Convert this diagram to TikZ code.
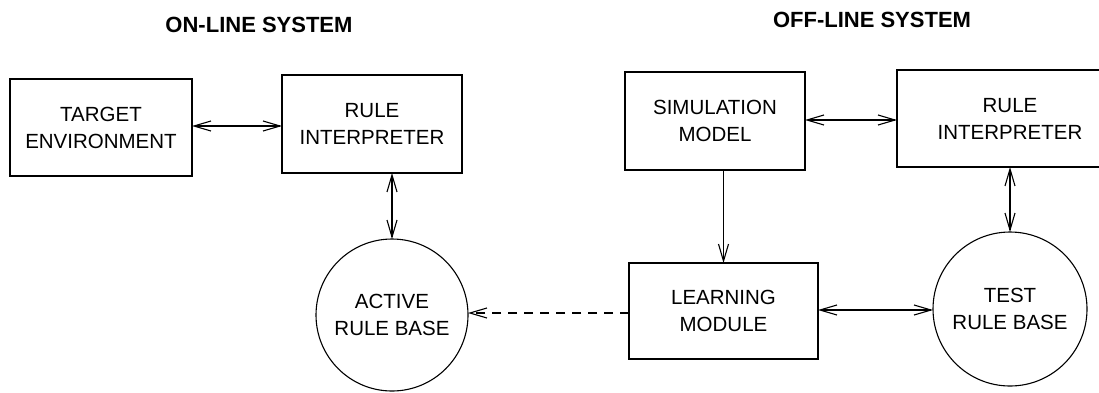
\documentclass[tikz,border=0pt]{standalone}
\usepackage{fontspec}
\setmainfont{Liberation Sans}
\usetikzlibrary{arrows.meta}
\begin{document}
\begin{tikzpicture}[x=1pt,y=-1pt,
  every node/.style={inner sep=0pt, outer sep=0pt},
  lbl/.style={align=center, font=\fontsize{20.5}{27}\selectfont},
  box/.style={lbl, draw, line width=1.1pt},
  base/.style={lbl, draw, circle, line width=1.1pt},
  ttl/.style={font=\fontsize{22}{26}\bfseries\selectfont},
  conn/.style={line width=1.1pt},
  both/.style={conn, {Straight Barb[length=17pt,width=10pt]}-{Straight Barb[length=17pt,width=10pt]}},
  one/.style={conn, -{Straight Barb[length=17pt,width=10pt]}}]
\useasboundingbox (0,0) rectangle (1099,392);
\clip (0,0) rectangle (1099,392);
\node[ttl] (t1) at (259,25) {ON-LINE SYSTEM};
\node[ttl] (t2) at (872,20) {OFF-LINE SYSTEM};
\node[box, minimum width=182pt, minimum height=97pt] (te) at (101,127.5) {TARGET\\ENVIRONMENT};
\node[box, minimum width=180pt, minimum height=98pt] (ri1) at (372,124) {RULE\\INTERPRETER};
\node[box, minimum width=180pt, minimum height=98pt] (sm) at (715,121) {SIMULATION\\MODEL};
\node[box, minimum width=226pt, minimum height=97pt] (ri2) at (1010,118.5) {RULE\\INTERPRETER};
\node[base, minimum size=152pt] (arb) at (392,315) {ACTIVE\\RULE BASE};
\node[box, minimum width=189pt, minimum height=96pt] (lm) at (723.5,311) {LEARNING\\MODULE};
\node[base, minimum size=154pt] (trb) at (1010,309) {TEST\\RULE BASE};
\draw[both] (te.east |- 0,126) -- (ri1.west |- 0,126);
\draw[both] (ri1.south -| arb.north) -- (arb.north);
\draw[both] (sm.east |- 0,120) -- (ri2.west |- 0,120);
\draw[one] (sm.south -| lm.north) -- (lm.north);
\draw[both] (ri2.south -| trb.north) -- (trb.north);
\draw[both] (lm.east |- 0,310) -- (trb.west |- 0,310);
\draw[one, dash pattern=on 9pt off 7pt] (lm.west |- 0,313) -- (arb.east |- 0,313);
\end{tikzpicture}
\end{document}
